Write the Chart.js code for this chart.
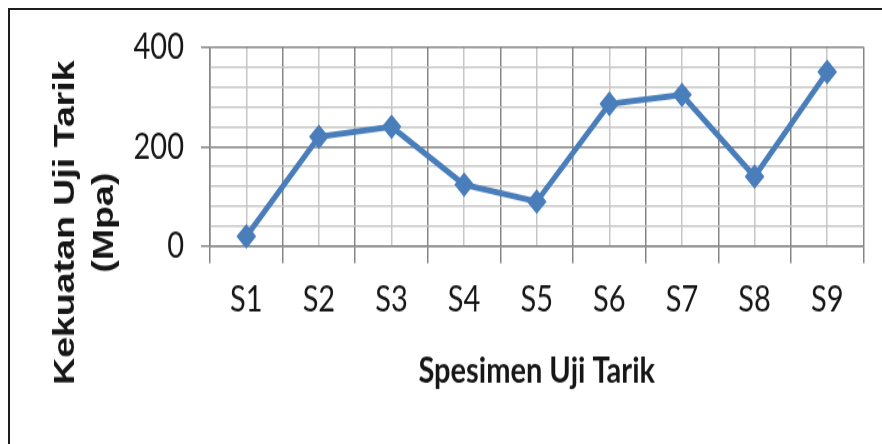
<!DOCTYPE html>
<html>
<head>
<meta charset="utf-8">
<script src="https://cdn.jsdelivr.net/npm/chart.js@4"></script>
<style>
html, body { margin: 0; padding: 0; background: #ffffff; overflow: hidden; width: 882px; height: 444px; }
#frame { position: absolute; left: 8px; top: 8px; width: 900px; height: 500px; border-left: 2px solid #1e1e1e; border-top: 2px solid #1e1e1e; }
#wrap { position: absolute; left: 0; top: 0; width: 882px; height: 355px; transform-origin: 0 0; transform: scale(1, 1.2507); }
</style>
</head>
<body>
<div id="frame"></div>
<div id="wrap"><canvas id="c" width="882" height="355"></canvas></div>
<script>
const categories = ['S1', 'S2', 'S3', 'S4', 'S5', 'S6', 'S7', 'S8', 'S9'];
const strength = [20, 220, 240, 124, 90, 286, 304, 140, 350];
const yLabelTicks = [0, 200, 400];
const yMin = 0;
const yMax = 400;
const yMinorStep = 40;

const DARK = '#858585';
const LIGHT = '#c6c6c6';
const TXT = '#161616';
const BLUE = '#4A7EBB';

const isMajor = (v) => yLabelTicks.includes(v);

new Chart(document.getElementById('c'), {
  type: 'line',
  data: {
    labels: categories,
    datasets: [{
      data: strength,
      borderColor: BLUE,
      backgroundColor: BLUE,
      borderWidth: 5,
      tension: 0,
      fill: false,
      pointStyle: 'rectRot',
      pointRadius: 8.5,
      pointHoverRadius: 8.5,
      pointBorderWidth: 2,
      pointBorderColor: BLUE,
      pointBackgroundColor: BLUE,
      clip: false
    }]
  },
  options: {
    responsive: false,
    animation: false,
    events: [],
    layout: { padding: { top: 37.6, bottom: 36.6, left: 0, right: 18.5 } },
    plugins: {
      legend: { display: false },
      tooltip: { enabled: false },
      title: {
        display: true,
        position: 'left',
        text: ['Kekuatan Uji Tarik', '(Mpa)'],
        color: TXT,
        font: { family: '"Liberation Sans", Arial, sans-serif', size: 30, weight: 'bold', lineHeight: 1.3 },
        padding: { top: 46.5, bottom: 0 }
      }
    },
    scales: {
      x: {
        type: 'category',
        offset: true,
        grid: { offset: true, color: DARK, lineWidth: 1.5, tickLength: 13.5, tickColor: DARK, tickWidth: 1.5 },
        border: { color: DARK, width: 1.5 },
        ticks: { color: TXT, font: { family: 'Lato, "Open Sans", sans-serif', size: 29 }, padding: 12, maxRotation: 0, autoSkip: false },
        title: {
          display: true,
          text: 'Spesimen Uji Tarik',
          color: TXT,
          font: { family: 'Lato, "Open Sans", sans-serif', size: 29, weight: 'bold', lineHeight: 1.2 },
          padding: { top: 9.5, bottom: 4.8 }
        }
      },
      x2: {
        type: 'category',
        labels: categories,
        position: 'top',
        offset: true,
        grid: { offset: false, color: LIGHT, lineWidth: 1.5, drawTicks: false },
        border: { display: false },
        ticks: { display: false }
      },
      y: {
        min: yMin,
        max: yMax,
        ticks: {
          stepSize: yMinorStep,
          autoSkip: false,
          color: TXT,
          font: { family: 'Lato, "Open Sans", sans-serif', size: 29 },
          padding: 17,
          callback: (v) => isMajor(v) ? String(v) : ''
        },
        grid: {
          color: (ctx) => (ctx.tick && isMajor(ctx.tick.value)) ? DARK : LIGHT,
          lineWidth: 1.5,
          tickLength: 9,
          tickWidth: 1.5,
          tickColor: (ctx) => (ctx.tick && isMajor(ctx.tick.value)) ? DARK : 'rgba(0,0,0,0)'
        },
        border: { color: DARK, width: 1.5 },
        afterFit: (axis) => { axis.width = 85.5; }
      }
    }
  }
});
</script>
</body>
</html>
